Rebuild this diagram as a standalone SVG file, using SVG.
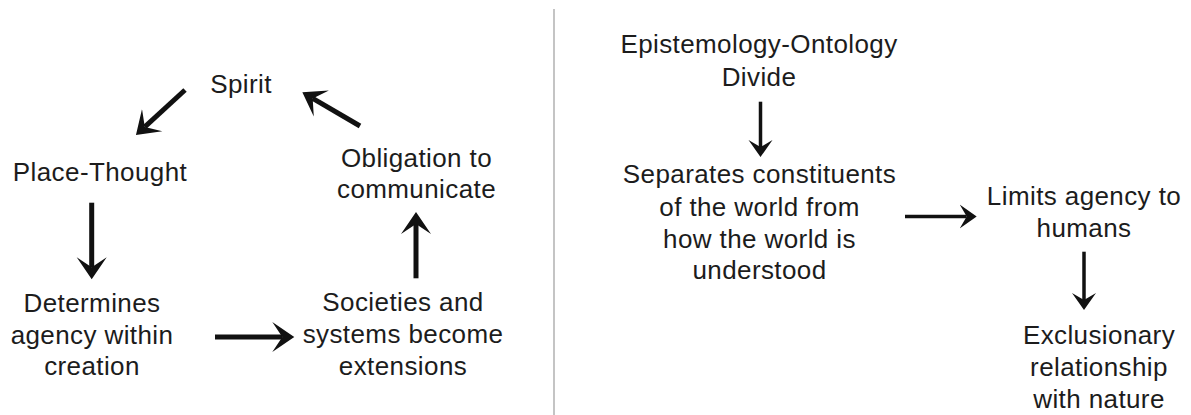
<svg xmlns="http://www.w3.org/2000/svg" width="1191" height="415" viewBox="0 0 1191 415">
<style>
  text { font-family: "Liberation Sans", Arial, sans-serif; font-size: 26px; letter-spacing: 0.4px; fill: #1c1c1c; text-anchor: middle; }
  .big { stroke: #111; stroke-width: 5; fill: none; marker-end: url(#headBig); }
  .small { stroke: #111; stroke-width: 3.5; fill: none; marker-end: url(#headSmall); }
  .divider { stroke: #c4c4c4; stroke-width: 2; }
</style>
<defs>
  <marker id="headBig" markerUnits="userSpaceOnUse" viewBox="0 -16 24 32" markerWidth="24" markerHeight="32" refX="10" refY="0" orient="auto">
    <path d="M0,-15 L22,0 L0,15 L10,0 Z" fill="#111"/>
  </marker>
  <marker id="headSmall" markerUnits="userSpaceOnUse" viewBox="0 -13 19 26" markerWidth="19" markerHeight="26" refX="7" refY="0" orient="auto">
    <path d="M0,-12 L17,0 L0,12 L7,0 Z" fill="#111"/>
  </marker>
</defs>
<rect width="1191" height="415" fill="#ffffff"/>
<line class="divider" x1="554" y1="9" x2="554" y2="415"/>

<g id="spirit"><text x="241" y="93">Spirit</text></g>
<g id="place-thought"><text x="100" y="181">Place-Thought</text></g>
<g id="obligation"><text x="416.5" y="167">Obligation to</text><text x="416.5" y="197.5">communicate</text></g>
<g id="determines"><text x="92" y="312">Determines</text><text x="92" y="343.5">agency within</text><text x="92" y="375">creation</text></g>
<g id="societies"><text x="403" y="311">Societies and</text><text x="403" y="343">systems become</text><text x="403" y="375">extensions</text></g>

<g id="epistemology"><text x="759" y="53">Epistemology-Ontology</text><text x="759" y="86">Divide</text></g>
<g id="separates"><text x="759.5" y="183">Separates constituents</text><text x="759.5" y="215.5">of the world from</text><text x="759.5" y="248">how the world is</text><text x="759.5" y="279">understood</text></g>
<g id="limits"><text x="1084" y="205">Limits agency to</text><text x="1084" y="237">humans</text></g>
<g id="exclusionary"><text x="1099" y="343.5">Exclusionary</text><text x="1099" y="376">relationship</text><text x="1099" y="407.5">with nature</text></g>

<g id="connectors">
  <line class="big" x1="185" y1="90" x2="144.8" y2="126.9"/>
  <line class="big" x1="360" y1="126" x2="312.7" y2="98.4"/>
  <line class="big" x1="91.7" y1="202.7" x2="91.7" y2="267.3"/>
  <line class="big" x1="215" y1="337" x2="282.3" y2="337"/>
  <line class="big" x1="416" y1="278.3" x2="416" y2="224"/>
  <line class="small" x1="760.5" y1="101.7" x2="760.5" y2="147"/>
  <line class="small" x1="905" y1="216.5" x2="966.7" y2="216.5"/>
  <line class="small" x1="1084" y1="251.7" x2="1084" y2="300"/>
</g>
</svg>
